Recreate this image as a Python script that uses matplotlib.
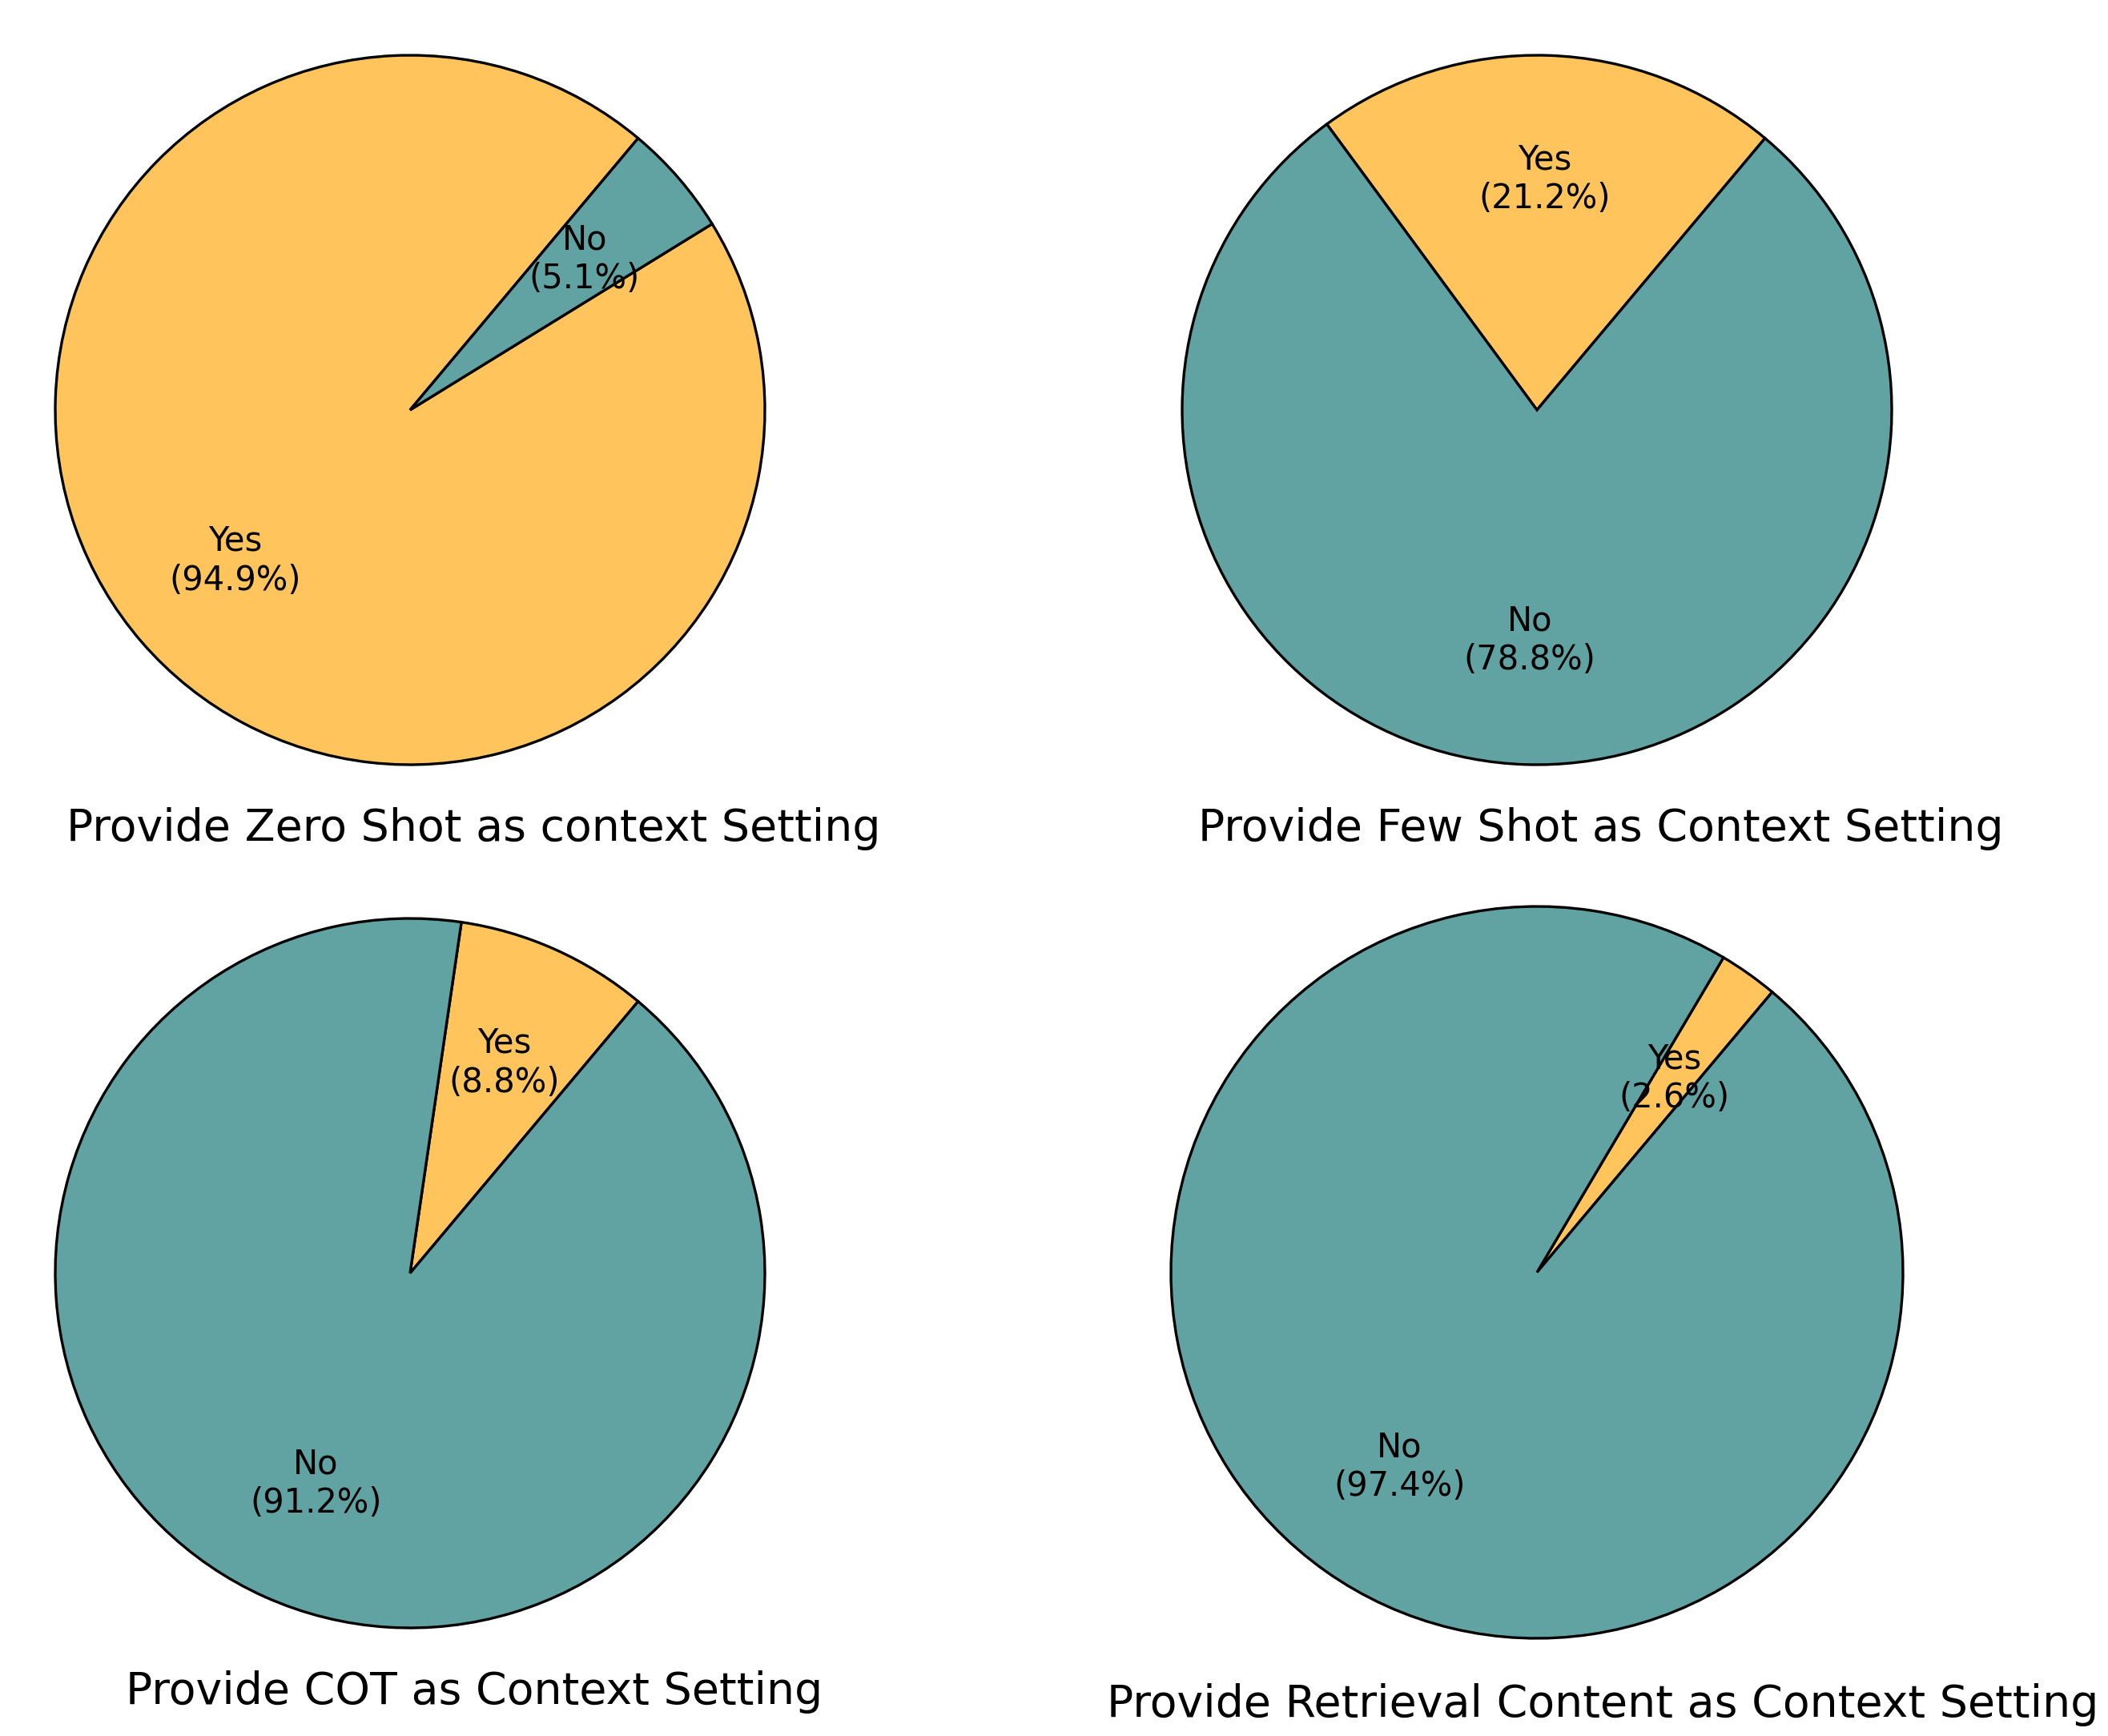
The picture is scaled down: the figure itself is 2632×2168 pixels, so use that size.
import matplotlib
matplotlib.use("Agg")
import matplotlib.pyplot as plt

# survey answers, order of wedges is Yes then No
titles = ["Provide Zero Shot as context Setting",
          "Provide Few Shot as Context Setting",
          "Provide COT as Context Setting",
          "Provide Retrieval Content as Context Setting"]
answer_labels = ["Yes", "No"]
yes_pct = [94.9, 21.2, 8.8, 2.6]
no_pct = [5.1, 78.8, 91.2, 97.4]

colors = ["#FFC45C", "#60A3A2"]

W, H = 2632, 2168
fig = plt.figure(figsize=(W / 300, H / 300), dpi=300)

# pie centres and radii in pixels (layout only)
centres = [(512, 512), (1919, 512), (512, 1590), (1919, 1589)]
radii = [443, 443, 443, 457]

for i in range(4):
    cx, cy = centres[i]
    half = radii[i] * 1.25
    ax = fig.add_axes([(cx - half) / W, 1 - (cy + half) / H, 2 * half / W, 2 * half / H])
    wedges, texts, autotexts = ax.pie(
        [yes_pct[i], no_pct[i]],
        colors=colors,
        startangle=50,
        autopct="%1.1f%%",
        pctdistance=0.65,
        wedgeprops=dict(edgecolor="black", linewidth=0.8),
        textprops=dict(fontsize=10),
    )
    for t, lab in zip(autotexts, answer_labels):
        t.set_text("{0}\n({1})".format(lab, t.get_text()))
    ax.set_xlim(-1.25, 1.25)
    ax.set_ylim(-1.25, 1.25)
    ax.text(0.18, -1.215, titles[i], ha="center", va="baseline", fontsize=13.3)

fig.savefig("out.png", dpi=300)
